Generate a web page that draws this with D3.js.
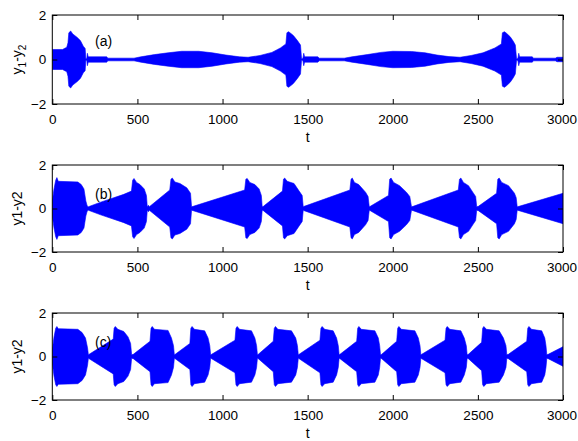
<!DOCTYPE html>
<html>
<head>
<meta charset="utf-8">
<script src="https://cdn.jsdelivr.net/npm/d3@7"></script>
<style>
  body { margin: 0; background: #fff; }
  svg { display: block; font-family: "Liberation Sans", Arial, sans-serif; }
  .tick text { font-size: 13.5px; fill: #000; }
  .tick line { stroke: #000; }
</style>
</head>
<body>
<div id="chart"></div>
<script>
// Envelope of y1-y2: [t, amplitude]
var envA = [[0,0.45],[60,0.45],[85,0.55],[92,0.75],[97,1.2],[108,1.28],[120,1.15],[145,1.0],[165,0.85],[182,0.6],[193,0.5],[197,0.05],[203,0.05],[206,0.28],[211,0.12],[320,0.12],[326,0.06],[480,0.06],[520,0.12],[600,0.22],[680,0.3],[760,0.37],[860,0.37],[940,0.3],[1020,0.2],[1100,0.12],[1150,0.1],[1220,0.18],[1290,0.32],[1340,0.52],[1372,0.7],[1378,1.2],[1388,1.25],[1400,1.18],[1416,1.08],[1440,0.85],[1458,0.65],[1464,0.05],[1472,0.05],[1477,0.28],[1482,0.12],[1560,0.12],[1568,0.06],[1715,0.06],[1760,0.12],[1850,0.22],[1930,0.32],[2000,0.37],[2110,0.36],[2190,0.3],[2260,0.2],[2330,0.13],[2395,0.1],[2460,0.18],[2530,0.3],[2600,0.52],[2638,0.7],[2644,1.2],[2656,1.25],[2668,1.18],[2690,1.02],[2708,0.82],[2720,0.65],[2727,0.05],[2735,0.05],[2740,0.28],[2745,0.12],[2820,0.12],[2826,0.06],[2955,0.06],[2965,0.1],[3000,0.1]];

var envB = [[0,0.35],[10,0.9],[20,1.3],[27,1.42],[35,1.25],[150,1.22],[170,1.1],[186,0.9],[197,0.35],[205,0.12],[212,0.08],[280,0.28],[344,0.45],[420,0.65],[465,0.8],[472,1.3],[480,1.38],[495,1.2],[515,1.1],[540,0.9],[553,0.6],[558,0.08],[565,0.15],[570,0.08],[690,0.85],[697,1.35],[705,1.4],[720,1.22],[750,1.15],[790,0.95],[812,0.7],[818,0.08],[828,0.1],[1130,0.85],[1137,1.35],[1145,1.38],[1160,1.2],[1190,1.1],[1215,0.9],[1228,0.6],[1233,0.08],[1240,0.1],[1352,0.8],[1358,1.35],[1365,1.4],[1380,1.25],[1420,1.15],[1450,0.8],[1468,0.6],[1474,0.08],[1480,0.1],[1748,0.85],[1755,1.35],[1762,1.4],[1775,1.2],[1800,1.1],[1840,0.75],[1855,0.55],[1862,0.08],[1868,0.1],[1975,0.6],[1982,1.35],[1990,1.4],[2005,1.2],[2040,1.05],[2080,0.75],[2100,0.55],[2110,0.08],[2120,0.1],[2385,0.85],[2392,1.35],[2400,1.4],[2415,1.2],[2445,1.05],[2470,0.75],[2487,0.55],[2493,0.08],[2503,0.1],[2610,0.7],[2617,1.35],[2625,1.4],[2640,1.2],[2680,1.05],[2715,0.7],[2725,0.5],[2731,0.08],[2742,0.1],[3000,0.7]];

var envC = [[0,0.3],[10,0.9],[20,1.3],[27,1.38],[35,1.28],[150,1.25],[175,1.1],[195,0.85],[207,0.4],[212,0.08],[358,0.8],[363,1.3],[370,1.38],[385,1.25],[420,1.15],[445,0.9],[460,0.6],[466,0.08],[476,0.1],[574,0.7],[580,1.3],[587,1.38],[600,1.25],[680,1.2],[700,0.85],[712,0.5],[717,0.08],[722,0.1],[808,0.6],[814,1.3],[821,1.38],[835,1.25],[895,1.18],[915,0.85],[925,0.5],[930,0.08],[936,0.1],[1073,0.75],[1079,1.3],[1086,1.38],[1100,1.25],[1170,1.18],[1190,0.85],[1200,0.5],[1205,0.08],[1210,0.1],[1298,0.7],[1304,1.3],[1311,1.38],[1325,1.25],[1405,1.18],[1430,0.85],[1440,0.5],[1445,0.08],[1450,0.1],[1572,0.75],[1578,1.3],[1585,1.38],[1600,1.25],[1650,1.18],[1670,0.85],[1680,0.5],[1685,0.08],[1690,0.1],[1788,0.7],[1794,1.3],[1801,1.38],[1815,1.25],[1895,1.18],[1915,0.85],[1923,0.5],[1928,0.08],[1935,0.1],[2023,0.7],[2029,1.3],[2036,1.38],[2050,1.25],[2130,1.18],[2150,0.85],[2160,0.5],[2165,0.08],[2170,0.1],[2307,0.75],[2313,1.3],[2320,1.38],[2335,1.25],[2400,1.18],[2420,0.85],[2432,0.5],[2437,0.08],[2444,0.1],[2522,0.65],[2528,1.3],[2535,1.38],[2550,1.25],[2625,1.18],[2650,0.85],[2665,0.5],[2670,0.08],[2679,0.1],[2787,0.7],[2793,1.3],[2800,1.38],[2815,1.25],[2875,1.18],[2893,0.85],[2900,0.5],[2905,0.08],[2913,0.1],[3000,0.45]];

var xTicks = [0, 500, 1000, 1500, 2000, 2500, 3000];
var yTicks = [-2, 0, 2];
var panelTags = ["(a)", "(b)", "(c)"];

var width = 578, height = 441;
var left = 52.3, right = 563;

// top and bottom of each panel (px)
var panels = [
  {env: envA, top: 15, bottom: 104, tag: panelTags[0], tagY: 46, sub: true},
  {env: envB, top: 165, bottom: 252, tag: panelTags[1], tagY: 199, sub: false},
  {env: envC, top: 313, bottom: 400, tag: panelTags[2], tagY: 347, sub: false}
];

var svg = d3.select("#chart").append("svg")
  .attr("width", width)
  .attr("height", height);

var x = d3.scaleLinear().domain([0, 3000]).range([left, right]);
var fmt = d3.format("d");

panels.forEach(function(p, i) {
  var y = d3.scaleLinear().domain([-2, 2]).range([p.bottom, p.top]);

  svg.append("clipPath").attr("id", "clip" + i)
    .append("rect")
    .attr("x", left).attr("y", p.top)
    .attr("width", right - left).attr("height", p.bottom - p.top);

  var area = d3.area()
    .x(function(d) { return x(d[0]); })
    .y0(function(d) { return y(-d[1]); })
    .y1(function(d) { return y(d[1]); });

  svg.append("path")
    .datum(p.env)
    .attr("clip-path", "url(#clip" + i + ")")
    .attr("fill", "#0000ff")
    .attr("stroke", "#0000ff")
    .attr("stroke-width", 0.6)
    .attr("d", area);

  // axes with inward ticks, MATLAB style
  var gb = svg.append("g")
    .attr("transform", "translate(0," + p.bottom + ")")
    .call(d3.axisBottom(x).tickValues(xTicks).tickSize(-5).tickPadding(10).tickFormat(fmt));
  var gt = svg.append("g")
    .attr("transform", "translate(0," + p.top + ")")
    .call(d3.axisTop(x).tickValues(xTicks).tickSize(-5).tickFormat(""));
  var gl = svg.append("g")
    .attr("transform", "translate(" + left + ",0)")
    .call(d3.axisLeft(y).tickValues(yTicks).tickSize(-5).tickPadding(6).tickFormat(fmt));
  var gr = svg.append("g")
    .attr("transform", "translate(" + right + ",0)")
    .call(d3.axisRight(y).tickValues(yTicks).tickSize(-5).tickFormat(""));
  [gb, gt, gl, gr].forEach(function(g) {
    g.select(".domain").remove();
    g.attr("font-family", null).attr("font-size", null);
  });
  // keep the last label inside the window
  gb.selectAll(".tick text").filter(function(d) { return d === 3000; }).attr("dx", -1.5);

  svg.append("rect")
    .attr("x", left).attr("y", p.top)
    .attr("width", right - left).attr("height", p.bottom - p.top)
    .attr("fill", "none")
    .attr("stroke", "#000")
    .attr("stroke-width", 1);

  svg.append("text")
    .attr("x", (left + right) / 2)
    .attr("y", p.bottom + 38)
    .attr("text-anchor", "middle")
    .style("font-size", "14px")
    .text("t");

  var yl = svg.append("text")
    .attr("transform", "translate(" + 22 + "," + ((p.top + p.bottom) / 2) + ") rotate(-90)")
    .attr("text-anchor", "middle")
    .style("font-size", "14px");
  if (p.sub) {
    yl.append("tspan").text("y");
    yl.append("tspan").attr("dy", 4).style("font-size", "10px").text("1");
    yl.append("tspan").attr("dy", -4).text("-y");
    yl.append("tspan").attr("dy", 4).style("font-size", "10px").text("2");
  } else {
    yl.text("y1-y2");
  }

  svg.append("text")
    .attr("x", 95)
    .attr("y", p.tagY)
    .style("font-size", "14px")
    .text(p.tag);
});
</script>
</body>
</html>
